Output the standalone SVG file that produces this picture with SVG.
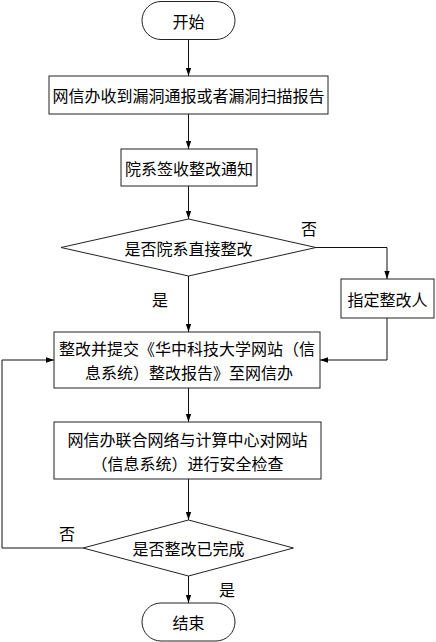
<svg xmlns="http://www.w3.org/2000/svg" width="436" height="642" viewBox="0 0 436 642">
<style>
.s{fill:#fff;stroke:#222;stroke-width:1}
.c{fill:none;stroke:#111;stroke-width:1}
text{font-family:"Noto Sans CJK SC","Liberation Sans",sans-serif;font-size:16px;fill:#000;text-anchor:middle;dominant-baseline:central}
</style>
<defs>
<marker id="a" markerWidth="8" markerHeight="12" refX="12" refY="4" viewBox="0 0 12 8" orient="auto" markerUnits="userSpaceOnUse">
<path d="M0,0 L12,4 L0,8 Z" fill="#000"/>
</marker>
</defs>
<rect width="436" height="642" fill="#fff"/>
<g id="connectors">
<line class="c" x1="188.5" y1="39" x2="188.5" y2="76" marker-end="url(#a)"/>
<line class="c" x1="188.5" y1="114" x2="188.5" y2="149" marker-end="url(#a)"/>
<line class="c" x1="188.5" y1="186" x2="188.5" y2="219" marker-end="url(#a)"/>
<line class="c" x1="188.5" y1="276" x2="188.5" y2="332" marker-end="url(#a)"/>
<polyline class="c" points="316,247.5 387,247.5 387,279" marker-end="url(#a)"/>
<polyline class="c" points="387,318 387,360 320,360" marker-end="url(#a)"/>
<line class="c" x1="188.5" y1="388" x2="188.5" y2="422" marker-end="url(#a)"/>
<line class="c" x1="188.5" y1="479" x2="188.5" y2="520" marker-end="url(#a)"/>
<polyline class="c" points="83,548 2,548 2,360 54,360" marker-end="url(#a)"/>
<line class="c" x1="188.5" y1="576" x2="188.5" y2="603" marker-end="url(#a)"/>
<text x="309" y="228">否</text>
<text x="160" y="299">是</text>
<text x="67" y="533">否</text>
<text x="227" y="589">是</text>
</g>
<g id="start">
<rect class="s" x="142" y="1.5" width="93" height="38" rx="19"/>
<text x="188.5" y="20.5">开始</text>
</g>
<g id="receive">
<rect class="s" x="49" y="76" width="279" height="38"/>
<text x="188.5" y="95">网信办收到漏洞通报或者漏洞扫描报告</text>
</g>
<g id="sign">
<rect class="s" x="121" y="149" width="136" height="37"/>
<text x="189" y="167.5">院系签收整改通知</text>
</g>
<g id="decide1">
<polygon class="s" points="188.5,219 316,247.5 188.5,276 61,247.5"/>
<text x="188.5" y="247.5">是否院系直接整改</text>
</g>
<g id="assign">
<rect class="s" x="341" y="279" width="93" height="39"/>
<text x="387.5" y="298.5">指定整改人</text>
</g>
<g id="rectify">
<rect class="s" x="54" y="332" width="266" height="56"/>
<text x="187" y="348">整改并提交《华中科技大学网站（信</text>
<text x="189" y="372">息系统）整改报告》至网信办</text>
</g>
<g id="check">
<rect class="s" x="54" y="422" width="267" height="57"/>
<text x="187.5" y="439">网信办联合网络与计算中心对网站</text>
<text x="187.5" y="462.5">（信息系统）进行安全检查</text>
</g>
<g id="decide2">
<polygon class="s" points="188.5,520 293.5,548 188.5,576 83,548"/>
<text x="188.5" y="548">是否整改已完成</text>
</g>
<g id="end">
<rect class="s" x="142" y="603" width="93" height="38" rx="19"/>
<text x="188.5" y="622">结束</text>
</g>
</svg>
